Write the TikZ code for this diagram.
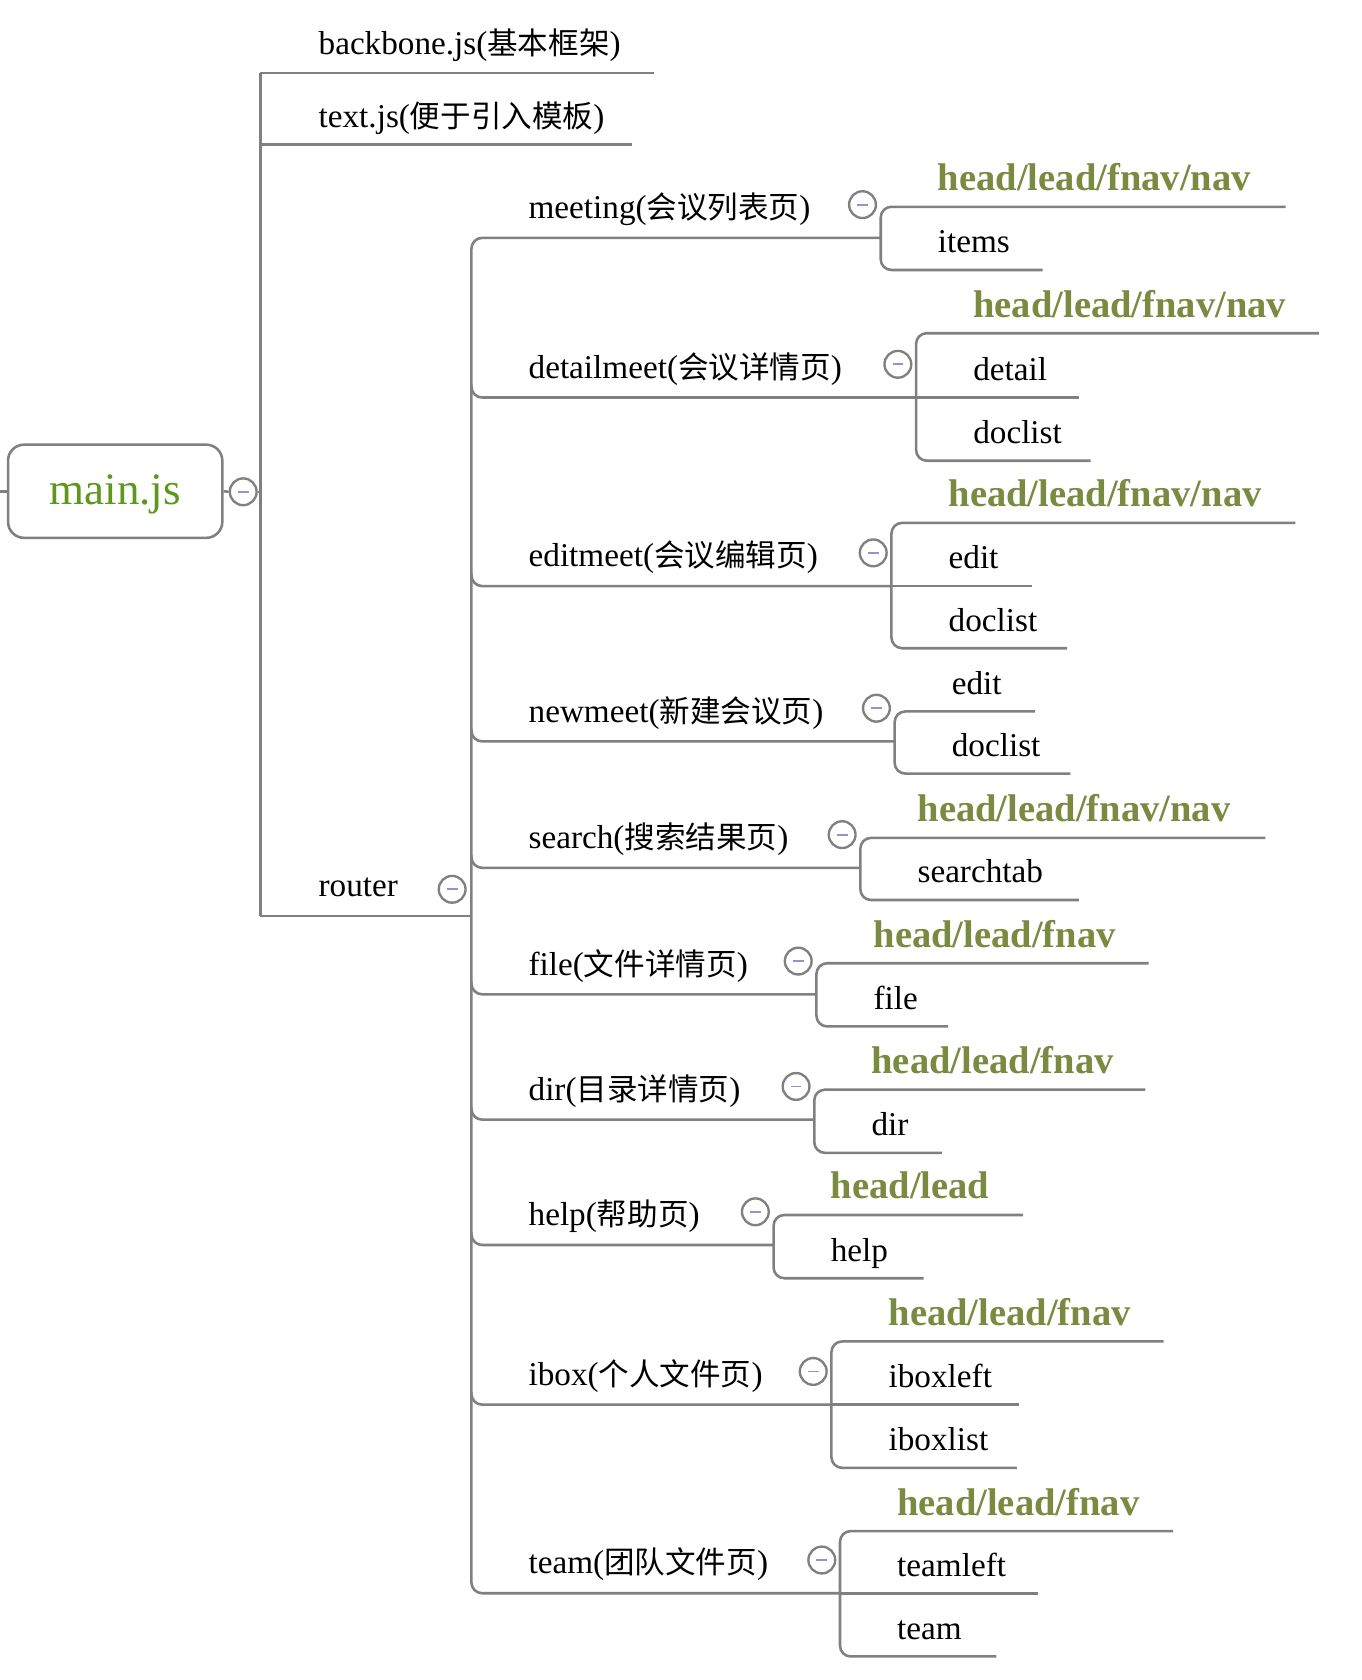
\documentclass[tikz,border=0pt]{standalone}
\usepackage{fontspec}
\setmainfont{Liberation Serif}
\newfontfamily\cjk[Scale=0.92]{Noto Sans CJK SC}
\usetikzlibrary{positioning}

\definecolor{linegray}{RGB}{128,128,128}
\definecolor{mapgreen}{RGB}{94,150,30}
\definecolor{headgreen}{RGB}{122,138,64}
\definecolor{minusblue}{RGB}{140,150,205}

\newcommand\headnav{head/lead/fnav/nav}
\newcommand\headfnav{head/lead/fnav}
\newcommand\headlead{head/lead}

\tikzset{
  brline/.style={draw=linegray, line width=1.2pt},
  lbl/.style={anchor=base west, inner sep=0pt, font=\fontsize{15.5}{18}\selectfont},
  hd/.style={lbl, font=\fontsize{18}{21}\selectfont\bfseries, text=headgreen},
  mainbox/.style={draw=linegray, line width=1.2pt, rounded corners=7.5pt,
    minimum width=100pt, minimum height=43.5pt, text=mapgreen,
    text height=15pt, text depth=3pt,
    font=\fontsize{21}{24}\selectfont},
  fold/.style={circle, draw=linegray, fill=white, line width=1.1pt,
    minimum size=12.5pt, inner sep=0pt,
    path picture={\draw[minusblue, line width=0.8pt]
      ([xshift=-2.5pt]path picture bounding box.center) --
      ([xshift=2.5pt]path picture bounding box.center);}}
}

\begin{document}
\begin{tikzpicture}[x=0.5pt, y=-0.5pt]
  \useasboundingbox (0,0) rectangle (1271,1568);

  % root
  \node[mainbox] (main) at (107.5,458.5) {main.js};
  \node[fold] (mainfold) at (227,459) {};
  \coordinate (stub) at (0,458.5);
  \coordinate (ttop) at (243,68);
  \coordinate (tbot) at (243,855);
  \draw[brline] (stub) -- (main.west);
  \draw[brline] (main.east) -- (mainfold.west);
  \draw[brline] (mainfold.east) -- (mainfold.east -| ttop);
  \draw[brline] (ttop) -- (tbot);

  % first level
  \node[lbl] (backbone) at (297,51) {backbone.js({\cjk 基本框架})};
  \node[lbl] (textjs) at (297,119) {text.js({\cjk 便于引入模板})};
  \node[lbl] (router) at (297,837) {router};
  \node[fold] (routerfold) at (422,830) {};
  \foreach \y/\e in {68/610, 135/590, 855/440}
    \draw[brline] (ttop |- 0,\y) -- (\e,\y);

  % router branches
  \draw[brline, rounded corners=5pt] (822,222) -| (440,1487) -- (784,1487);
  \foreach \L/\V in {371/855, 547/832, 692/835, 810/803, 928/762, 1045/760, 1162/722, 1311/776}
    \draw[brline, rounded corners=5pt] (440,\L-12) |- (\V,\L);

  \foreach \lab/\L/\V [count=\i] in {
      meeting({\cjk 会议列表页})/222/822,
      detailmeet({\cjk 会议详情页})/371/855,
      editmeet({\cjk 会议编辑页})/547/832,
      newmeet({\cjk 新建会议页})/692/835,
      search({\cjk 搜索结果页})/810/803,
      file({\cjk 文件详情页})/928/762,
      dir({\cjk 目录详情页})/1045/760,
      help({\cjk 帮助页})/1162/722,
      ibox({\cjk 个人文件页})/1311/776,
      team({\cjk 团队文件页})/1487/784}{
    \node[lbl] (page\i) at (493,\L-18) {\lab};
    \node[fold] (pagefold\i) at (\V-17,\L-31) {};
  }

  % leaf brackets
  \foreach \V/\t/\te/\b/\be in {822/193/1200/252/973, 855/311/1231/430/1018,
      832/488/1209/605/996, 835/664/966/722/999, 803/782/1181/840/1007,
      762/899/1072/958/885, 760/1017/1069/1076/879, 722/1134/955/1193/862,
      776/1252/1086/1370/949, 784/1429/1095/1546/930}
    \draw[brline, rounded corners=5pt] (\te,\t) -| (\V,\b) -- (\be,\b);
  \foreach \V/\y/\e in {855/371/1007, 832/547/963, 776/1311/951, 784/1487/969}
    \draw[brline] (\V,\y) -- (\e,\y);

  % leaf labels
  \foreach \V/\y/\txt [count=\j] in {822/193/\headnav, 855/311/\headnav,
      832/488/\headnav, 803/782/\headnav, 762/899/\headfnav, 760/1017/\headfnav,
      722/1134/\headlead, 776/1252/\headfnav, 784/1429/\headfnav}
    \node[hd] (head\j) at (\V+53,\y-15) {\txt};
  \foreach \V/\y/\txt [count=\j] in {822/252/items, 855/371/detail,
      855/430/doclist, 832/547/edit, 832/605/doclist, 835/664/edit,
      835/722/doclist, 803/840/searchtab, 762/958/file, 760/1076/dir,
      722/1193/help, 776/1311/iboxleft, 776/1370/iboxlist, 784/1487/teamleft,
      784/1546/team}
    \node[lbl] (leaf\j) at (\V+53,\y-16) {\txt};
\end{tikzpicture}
\end{document}
